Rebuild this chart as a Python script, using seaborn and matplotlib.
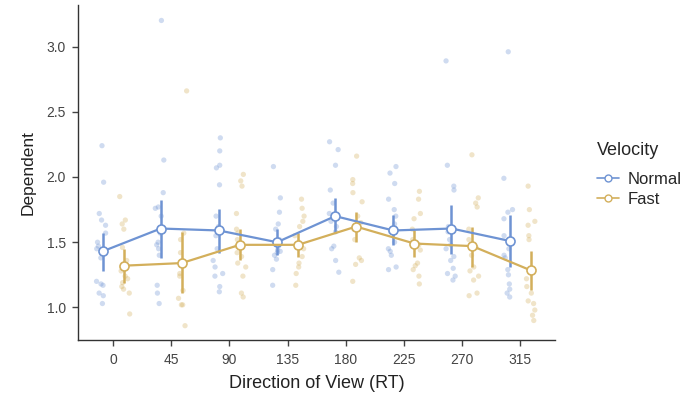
import numpy as np
import pandas as pd
import matplotlib
matplotlib.use("Agg")
import matplotlib.pyplot as plt
import seaborn as sns
from matplotlib.lines import Line2D

# direction categories
directions = ["0", "45", "90", "135", "180", "225", "270", "315"]
groups = ["Normal", "Fast"]

normal_pts = {
    "0": [2.24, 1.96, 1.72, 1.67, 1.63, 1.57, 1.50, 1.47, 1.45, 1.38, 1.20, 1.18, 1.17, 1.11, 1.09, 1.03],
    "45": [3.20, 2.13, 1.88, 1.77, 1.76, 1.70, 1.57, 1.50, 1.48, 1.45, 1.40, 1.17, 1.11, 1.03],
    "90": [2.30, 2.20, 2.09, 2.07, 1.94, 1.70, 1.62, 1.55, 1.45, 1.36, 1.31, 1.26, 1.24, 1.16, 1.12],
    "135": [2.08, 1.84, 1.73, 1.64, 1.60, 1.52, 1.47, 1.44, 1.43, 1.42, 1.40, 1.37, 1.29, 1.17],
    "180": [2.27, 2.21, 2.09, 1.90, 1.80, 1.72, 1.66, 1.62, 1.58, 1.47, 1.45, 1.36, 1.27],
    "225": [2.08, 2.03, 1.95, 1.83, 1.75, 1.70, 1.64, 1.58, 1.50, 1.45, 1.43, 1.40, 1.31, 1.29],
    "270": [2.89, 2.09, 1.93, 1.90, 1.62, 1.58, 1.52, 1.48, 1.45, 1.39, 1.36, 1.30, 1.26, 1.24, 1.21],
    "315": [2.96, 1.99, 1.75, 1.73, 1.68, 1.55, 1.45, 1.40, 1.38, 1.29, 1.25, 1.18, 1.14, 1.11, 1.08],
}
fast_pts = {
    "0": [1.85, 1.67, 1.64, 1.60, 1.46, 1.36, 1.30, 1.28, 1.24, 1.22, 1.19, 1.16, 1.14, 1.11, 0.95],
    "45": [2.66, 1.57, 1.52, 1.42, 1.36, 1.26, 1.24, 1.13, 1.07, 1.02, 1.02, 0.86],
    "90": [2.02, 1.97, 1.93, 1.72, 1.60, 1.57, 1.52, 1.47, 1.42, 1.39, 1.34, 1.31, 1.24, 1.11, 1.08],
    "135": [1.83, 1.76, 1.70, 1.66, 1.62, 1.55, 1.50, 1.45, 1.39, 1.34, 1.31, 1.26, 1.17],
    "180": [2.16, 1.98, 1.95, 1.88, 1.81, 1.70, 1.65, 1.60, 1.52, 1.38, 1.36, 1.33, 1.20],
    "225": [1.89, 1.83, 1.72, 1.68, 1.60, 1.52, 1.48, 1.44, 1.34, 1.32, 1.29, 1.24, 1.18],
    "270": [2.17, 1.84, 1.80, 1.77, 1.60, 1.52, 1.46, 1.40, 1.31, 1.28, 1.24, 1.21, 1.11, 1.09],
    "315": [1.93, 1.75, 1.66, 1.63, 1.55, 1.52, 1.30, 1.22, 1.16, 1.11, 1.05, 1.03, 0.98, 0.94, 0.90],
}

# means and interval ends
normal_mean = [1.43, 1.605, 1.59, 1.50, 1.70, 1.59, 1.605, 1.51]
normal_lo = [1.28, 1.38, 1.42, 1.40, 1.57, 1.48, 1.41, 1.31]
normal_hi = [1.57, 1.82, 1.755, 1.60, 1.84, 1.71, 1.785, 1.71]
fast_mean = [1.32, 1.34, 1.48, 1.48, 1.62, 1.49, 1.47, 1.285]
fast_lo = [1.19, 1.11, 1.36, 1.39, 1.50, 1.39, 1.31, 1.13]
fast_hi = [1.45, 1.58, 1.60, 1.57, 1.73, 1.59, 1.62, 1.43]

blue = "#6E93D3"
gold = "#D3AF5B"

rows = []
for d in directions:
    for v in normal_pts[d]:
        rows.append((d, "Normal", v))
    for v in fast_pts[d]:
        rows.append((d, "Fast", v))
df = pd.DataFrame(rows, columns=["Direction", "Velocity", "Dependent"])

sns.set_style("white")
plt.rcParams['font.family'] = ['Liberation Sans', 'DejaVu Sans']

fig = plt.figure(figsize=(6.92, 4.01), dpi=100)
ax = fig.add_axes([0.113, 0.152, 0.689, 0.836])

np.random.seed(3)
sns.stripplot(data=df, x="Direction", y="Dependent", hue="Velocity",
              order=directions, hue_order=groups, palette=[blue, gold],
              dodge=True, jitter=0.18, size=3.8, alpha=0.33, linewidth=0,
              legend=False, ax=ax)

xs = np.arange(len(directions))
off = 0.18
for means, lo, hi, col, sgn in [(normal_mean, normal_lo, normal_hi, blue, -1),
                                (fast_mean, fast_lo, fast_hi, gold, 1)]:
    m = np.array(means)
    yerr = [m - np.array(lo), np.array(hi) - m]
    ax.errorbar(xs + sgn * off, m, yerr=yerr, color=col, lw=1.6,
                elinewidth=1.8, capsize=0, marker="o", markersize=6.5,
                markerfacecolor="white", markeredgecolor=col,
                markeredgewidth=1.2, zorder=5)

ax.set_xlim(-0.6, 7.6)
ax.set_ylim(0.75, 3.32)
ax.set_yticks([1.0, 1.5, 2.0, 2.5, 3.0])
ax.set_yticklabels(["1.0", "1.5", "2.0", "2.5", "3.0"])
ax.set_xlabel("Direction of View (RT)", fontsize=13, color="#222222", labelpad=6)
ax.set_ylabel("Dependent", fontsize=12.5, color="#222222", labelpad=8)
ax.tick_params(axis="both", labelsize=10, colors="#444444", length=4,
               width=1, direction="out", bottom=True, left=True, pad=5)
for s in ["top", "right"]:
    ax.spines[s].set_visible(False)
for s in ["left", "bottom"]:
    ax.spines[s].set_color("#333333")
    ax.spines[s].set_linewidth(1)

handles = [Line2D([0], [0], color=blue, marker="o", markerfacecolor="white",
                  markersize=5, lw=1.2, markeredgewidth=1),
           Line2D([0], [0], color=gold, marker="o", markerfacecolor="white",
                  markersize=5, lw=1.2, markeredgewidth=1)]
leg = fig.legend(handles, groups, title="Velocity", loc="upper left",
                 bbox_to_anchor=(0.863, 0.645), frameon=False, fontsize=12,
                 title_fontsize=13, handlelength=1.3, handletextpad=0.5,
                 borderaxespad=0, labelspacing=0.3, borderpad=0)
leg._legend_box.align = "left"
leg._legend_box.sep = 9

fig.savefig("out.png", dpi=100)
